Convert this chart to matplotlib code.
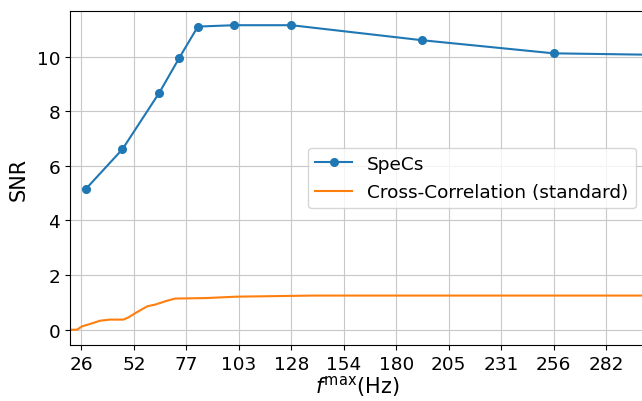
import numpy as np
import matplotlib
matplotlib.use('Agg')
import matplotlib.pyplot as plt

# SpeCs SNR at each cutoff frequency
f_specs = [27.7, 45.6, 63.6, 73.3, 82.4, 100.2, 128.0, 191.8, 256.0, 320.0]
snr_specs = [5.15, 6.61, 8.68, 9.95, 11.10, 11.15, 11.15, 10.60, 10.12, 10.05]

# standard cross-correlation SNR
f_cc = [18.0, 20.1, 23.4, 25.8, 29.8, 34.7, 39.6, 46.1, 48.5, 52.6, 57.8, 61.6,
        67.3, 71.3, 86.8, 101.4, 138.8, 180.0, 230.0, 280.0, 320.0]
snr_cc = [0.0, 0.0, 0.0, 0.12, 0.21, 0.33, 0.37, 0.37, 0.45, 0.64, 0.86, 0.92,
          1.06, 1.14, 1.16, 1.21, 1.25, 1.25, 1.25, 1.25, 1.25]

tick_pos = [25.6 * k for k in range(1, 12)]
tick_lab = ['26', '52', '77', '103', '128', '154', '180', '205', '231', '256', '282']

plt.rcParams['font.size'] = 13.3

fig = plt.figure(figsize=(6.42, 4.02), dpi=100)
ax = fig.add_axes([70 / 642, 1 - 346 / 402, 575 / 642, 334 / 402])

ax.plot(f_specs, snr_specs, 'o-', color='#1f77b4', markersize=5.5, label='SpeCs')
ax.plot(f_cc, snr_cc, '-', color='#ff7f0e', label='Cross-Correlation (standard)')

ax.set_xlim(20.0, 300.6)
ax.set_ylim(-0.56, 11.67)
ax.set_xticks(tick_pos)
ax.set_xticklabels(tick_lab)
ax.set_yticks([0, 2, 4, 6, 8, 10])
ax.grid(True, color='#c8c8c8')
ax.set_xlabel(r'$f^{\mathrm{max}}$(Hz)', fontsize=15, labelpad=0)
ax.set_ylabel('SNR', fontsize=15, labelpad=6)
ax.legend(loc='center right', labelspacing=0.55)

fig.savefig('out.png', dpi=100)
